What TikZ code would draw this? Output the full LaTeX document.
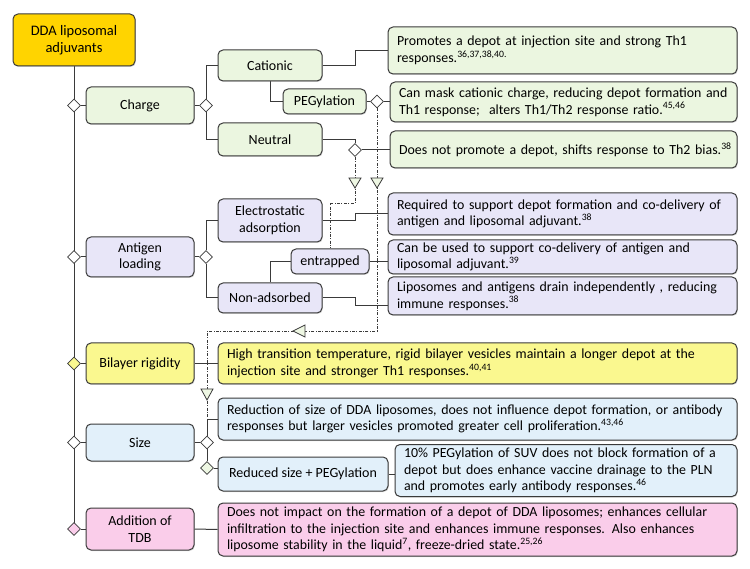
\documentclass[tikz,border=0pt]{standalone}
\usepackage{fontspec}
\setmainfont{Carlito}
\usetikzlibrary{shapes.geometric,backgrounds,shadows}
\definecolor{lc}{HTML}{3A3A3A}
\definecolor{gfill}{HTML}{EBF6E0}
\definecolor{pfill}{HTML}{E8E6F8}
\definecolor{yfill}{HTML}{FAF88F}
\definecolor{bfill}{HTML}{E2F0FA}
\definecolor{kfill}{HTML}{FACDEA}
\definecolor{gold}{HTML}{FFD400}
\definecolor{tfill}{HTML}{EEF7E3}
\newcommand{\oneline}[1]{\mbox{#1}}
\begin{document}
\begin{tikzpicture}[x=1pt,y=-1pt,
 box/.style={draw=lc, line width=1pt, rounded corners=5pt, inner sep=0pt, align=center,
   font=\fontsize{14}{16.5}\selectfont,
   drop shadow={opacity=0.3, shadow xshift=0.8pt, shadow yshift=-1pt}},
 tbox/.style={box, align=left, font=\fontsize{13.9}{16.6}\selectfont},
 dia/.style={diamond, draw=lc, line width=0.8pt, fill=white, inner sep=0pt, minimum width=13pt, minimum height=13pt},
 conn/.style={draw=lc, line width=1pt},
 dd/.style={draw=lc, line width=0.8pt, dash pattern=on 3pt off 1.5pt on 0.8pt off 1.5pt},
 tri/.style={draw=lc, line width=0.8pt, fill=tfill, line join=miter}]
\useasboundingbox (0,0) rectangle (750,569);

% left column
\node[box, fill=gold, minimum width=122pt, minimum height=52pt, font=\fontsize{14.5}{17}\selectfont] (root) at (74,40) {DDA liposomal\\adjuvants};
\node[box, fill=gfill, minimum width=108pt, minimum height=37pt] (charge) at (140,105.5) {Charge};
\node[box, fill=pfill, minimum width=108pt, minimum height=40pt] (antigen) at (140,257) {Antigen\\loading};
\node[box, fill=yfill, minimum width=108pt, minimum height=41pt] (bil) at (140,363.5) {Bilayer rigidity};
\node[box, fill=bfill, minimum width=108pt, minimum height=37pt] (size) at (140,442.5) {Size};
\node[box, fill=kfill, minimum width=108pt, minimum height=42pt] (add) at (140,529) {Addition of\\TDB};

% second column
\node[box, fill=gfill, minimum width=104pt, minimum height=31pt] (cat) at (270,65.5) {Cationic};
\node[box, fill=gfill, minimum width=83pt, minimum height=25pt] (peg) at (324.5,101.5) {PEGylation};
\node[box, fill=gfill, minimum width=104pt, minimum height=33pt] (neu) at (270,139.5) {Neutral};
\node[box, fill=pfill, minimum width=104pt, minimum height=43pt] (ele) at (270,220.5) {Electrostatic\\adsorption};
\node[box, fill=pfill, minimum width=78pt, minimum height=25pt] (ent) at (330,261.5) {entrapped};
\node[box, fill=pfill, minimum width=104pt, minimum height=30pt] (non) at (270,298) {Non-adsorbed};
\node[box, fill=bfill, minimum width=170pt, minimum height=34pt] (red) at (303,474) {Reduced size + PEGylation};

% text boxes
\node[tbox, fill=gfill, minimum width=349pt, minimum height=47pt, text width=331pt] (t1) at (562.5,50.5) {\oneline{Promotes a depot at injection site and strong Th1}\\\oneline{responses.\textsuperscript{36,37,38,40.}}};
\node[tbox, fill=gfill, minimum width=347pt, minimum height=40pt, text width=329pt] (t2) at (563.5,102) {\oneline{Can mask cationic charge, reducing depot formation and}\\\oneline{Th1 response;\ \ alters Th1/Th2 response ratio.\textsuperscript{45,46}}};
\node[tbox, fill=gfill, minimum width=347pt, minimum height=37pt, text width=329pt] (t3) at (563.5,149.5) {\oneline{Does not promote a depot, shifts response to Th2 bias.\textsuperscript{38}}};
\node[tbox, fill=pfill, minimum width=349pt, minimum height=42pt, text width=331pt] (t4) at (562.5,214) {\oneline{Required to support depot formation and co-delivery of}\\\oneline{antigen and liposomal adjuvant.\textsuperscript{38}}};
\node[tbox, fill=pfill, minimum width=349pt, minimum height=34pt, text width=331pt] (t5) at (562.5,257) {\oneline{Can be used to support co-delivery of antigen and}\\\oneline{liposomal adjuvant.\textsuperscript{39}}};
\node[tbox, fill=pfill, minimum width=349pt, minimum height=38pt, text width=331pt] (t6) at (562.5,296) {\oneline{Liposomes and antigens drain independently , reducing}\\\oneline{immune responses.\textsuperscript{38}}};
\node[tbox, fill=yfill, minimum width=519pt, minimum height=41pt, text width=501pt] (t7) at (477.5,363.5) {\oneline{High transition temperature, rigid bilayer vesicles maintain a longer depot at the}\\\oneline{injection site and stronger Th1 responses.\textsuperscript{40,41}}};
\node[tbox, fill=bfill, minimum width=519pt, minimum height=42pt, text width=501pt] (t8) at (477.5,419) {\oneline{Reduction of size of DDA liposomes, does not influence depot formation, or antibody}\\\oneline{responses but larger vesicles promoted greater cell proliferation.\textsuperscript{43,46}}};
\node[tbox, fill=bfill, minimum width=342pt, minimum height=52pt, text width=324pt] (t9) at (566,470.5) {\oneline{10\% PEGylation of SUV does not block formation of a}\\\oneline{depot but does enhance vaccine drainage to the PLN}\\\oneline{and promotes early antibody responses.\textsuperscript{46}}};
\node[tbox, fill=kfill, minimum width=519pt, minimum height=53pt, text width=501pt] (t10) at (477.5,529.5) {\oneline{Does not impact on the formation of a depot of DDA liposomes; enhances cellular}\\\oneline{infiltration to the injection site and enhances immune responses. Also enhances}\\\oneline{liposome stability in the liquid\textsuperscript{7}, freeze-dried state.\textsuperscript{25,26}}};

% diamonds
\node[dia] (dm1) at (74,105.5) {};
\node[dia] (dm2) at (74,257) {};
\node[dia, fill=yfill] (dm3) at (74,363.5) {};
\node[dia] (dm4) at (74,442.5) {};
\node[dia, fill=kfill] (dm5) at (74,529) {};
\node[dia] (dc) at (206,105.5) {};
\node[dia] (da) at (206,257) {};
\node[dia] (ds) at (207,442.5) {};
\node[dia, fill=tfill] (dsl) at (207,468) {};
\node[dia] (dp) at (377,101.5) {};
\node[dia] (dn) at (355,150) {};

\coordinate (c1) at (355,203);
\coordinate (c2) at (330,203);
\coordinate (c3) at (377,331);
\coordinate (c4) at (207,331);

\begin{pgfonlayer}{background}
\draw[conn] (root.south) -- (dm5.center);
\draw[conn] (dm1.east) -- (charge.west);
\draw[conn] (dm2.east) -- (antigen.west);
\draw[conn] (dm3.east) -- (bil.west);
\draw[conn] (dm4.east) -- (size.west);
\draw[conn] (dm5.east) -- (add.west);
% charge
\draw[conn] (charge.east) -- (dc.west);
\draw[conn] (cat.west) -| (dc.north);
\draw[conn] (neu.west) -| (dc.south);
\draw[conn] (cat.south) |- (peg.west);
\draw[conn] (cat.east) -- ++(33,0) |- (t1.west);
\draw[conn] (peg.east) -- (dp.west);
\draw[conn] (dp.east) -- (dp.east -| t2.west);
\draw[conn] (neu.east) -| (dn.north);
\draw[conn] (dn.east) -- (dn.east -| t3.west);
% antigen
\draw[conn] (antigen.east) -- (da.west);
\draw[conn] (ele.west) -| (da.north);
\draw[conn] (non.west) -| (da.south);
\draw[conn] (non.north) |- (ent.west);
\draw[conn] (ele.east) -- ++(33,0) |- (t4.west);
\draw[conn] (ent.east) -- (ent.east -| t5.west);
\draw[conn] (non.east) -- ++(33,0) |- ([yshift=-10pt]t6.west);
% bilayer
\draw[conn] (bil.east) -- (t7.west);
% size
\draw[conn] (size.east) -- (ds.west);
\draw[conn] (ds.north) |- (t8.west);
\draw[conn] (ds.south) -- (dsl.north);
\draw[conn] (dsl.east) -- (dsl.east -| red.west);
\draw[conn] (red.east) -- (red.east -| t9.west);
% addition
\draw[conn] (add.east) -- (t10.west);
% dash-dot relations
\draw[dd] (dn.south) -- (c1) -- (c2) -- (ent.north);
\draw[dd] (dp.south) -- (c3) -- (c4) -- (ds.north |- t8.west);
\end{pgfonlayer}

% open triangle heads
\draw[tri] (355,178) -- ++(6,0) -- ++(-6,10) -- ++(-6,-10) -- cycle;
\draw[tri] (377,178) -- ++(6,0) -- ++(-6,10) -- ++(-6,-10) -- cycle;
\draw[tri] (305,331) -- ++(0,-6) -- ++(-12,6) -- ++(12,6) -- cycle;
\draw[tri] (207,389) -- ++(6,0) -- ++(-6,11) -- ++(-6,-11) -- cycle;
\end{tikzpicture}
\end{document}
